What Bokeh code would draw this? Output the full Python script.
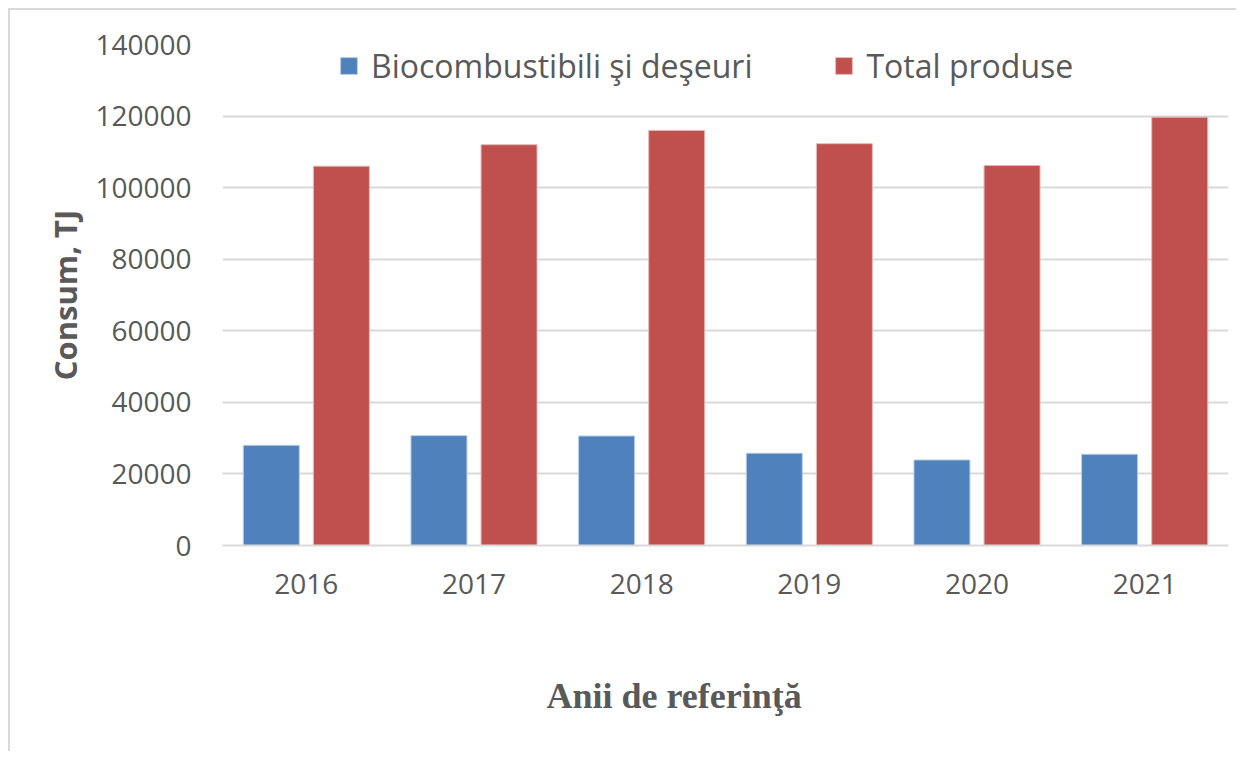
from bokeh.plotting import figure
from bokeh.models import ColumnDataSource, Range1d, FixedTicker, BasicTickFormatter, Legend, LegendItem, Title
from bokeh.transform import dodge
from bokeh.embed import file_html
from bokeh.resources import INLINE

years = ["2016", "2017", "2018", "2019", "2020", "2021"]
bio = [28000, 30700, 30600, 25800, 23900, 25500]
total = [106000, 112000, 116000, 112300, 106200, 119700]
y_ticks = [0, 20000, 40000, 60000, 80000, 100000, 120000, 140000]

src = ColumnDataSource(dict(years=years, bio=bio, total=total))

TXT = "#595959"
p = figure(width=1228, height=743, x_range=years, y_range=Range1d(0, 140000),
           output_backend="svg", toolbar_location=None,
           min_border_left=212, min_border_top=34, min_border_right=10, min_border_bottom=208)
p.styles = {"border-top": "2px solid #d9d9d9", "border-left": "2px solid #d9d9d9",
            "margin-top": "8px", "margin-left": "8px"}
p.outline_line_color = None
p.background_fill_color = "white"

r1 = p.vbar(x=dodge("years", -0.209, range=p.x_range), top="bio", width=0.334, source=src,
            fill_color="#4F81BD", line_color="#b9cde5", line_width=1)
r2 = p.vbar(x=dodge("years", 0.209, range=p.x_range), top="total", width=0.334, source=src,
            fill_color="#C0504D", line_color="#e6b9b8", line_width=1)

p.ygrid.grid_line_color = "#d9d9d9"
p.ygrid.grid_line_width = 2
p.xgrid.grid_line_color = None

p.yaxis.ticker = FixedTicker(ticks=y_ticks)
p.yaxis.formatter = BasicTickFormatter(use_scientific=False)
p.yaxis.axis_line_color = None
p.yaxis.major_tick_line_color = None
p.yaxis.minor_tick_line_color = None
p.yaxis.major_label_standoff = 25
p.yaxis.major_label_text_font = "Open Sans"
p.yaxis.major_label_text_font_size = "28px"
p.yaxis.major_label_text_color = TXT
p.yaxis.axis_label = "Consum, TJ"
p.yaxis.axis_label_text_font = "Open Sans"
p.yaxis.axis_label_text_font_style = "bold"
p.yaxis.axis_label_text_font_size = "31px"
p.yaxis.axis_label_text_color = TXT
p.yaxis.axis_label_standoff = 6

p.xaxis.axis_line_color = "#d9d9d9"
p.xaxis.axis_line_width = 2
p.xaxis.major_tick_line_color = None
p.xaxis.minor_tick_line_color = None
p.xaxis.major_label_standoff = 22
p.xaxis.major_label_text_font = "Open Sans"
p.xaxis.major_label_text_font_size = "28px"
p.xaxis.major_label_text_color = TXT

# spacer panel so that the axis title sits lower, as in the reference
spacer = Title(text=" ", text_font_size="1px", standoff=74, text_color=TXT)
p.add_layout(spacer, "below")
t = Title(text="Anii de referinţă", align="left", offset=324,
          text_font="Liberation Serif", text_font_style="bold", text_font_size="36px",
          text_color=TXT, standoff=0)
p.add_layout(t, "below")

legend = Legend(items=[LegendItem(label="Biocombustibili şi deşeuri", renderers=[r1]),
                       LegendItem(label="Total produse", renderers=[r2])],
                orientation="horizontal", location=(116, 458),
                border_line_color=None, background_fill_alpha=0,
                padding=0, margin=0, spacing=81, label_standoff=12,
                glyph_width=21, glyph_height=21,
                label_text_font="Open Sans", label_text_font_size="32px",
                label_text_color=TXT)
p.add_layout(legend, "center")

open("out.html", "w").write(file_html(p, INLINE))
